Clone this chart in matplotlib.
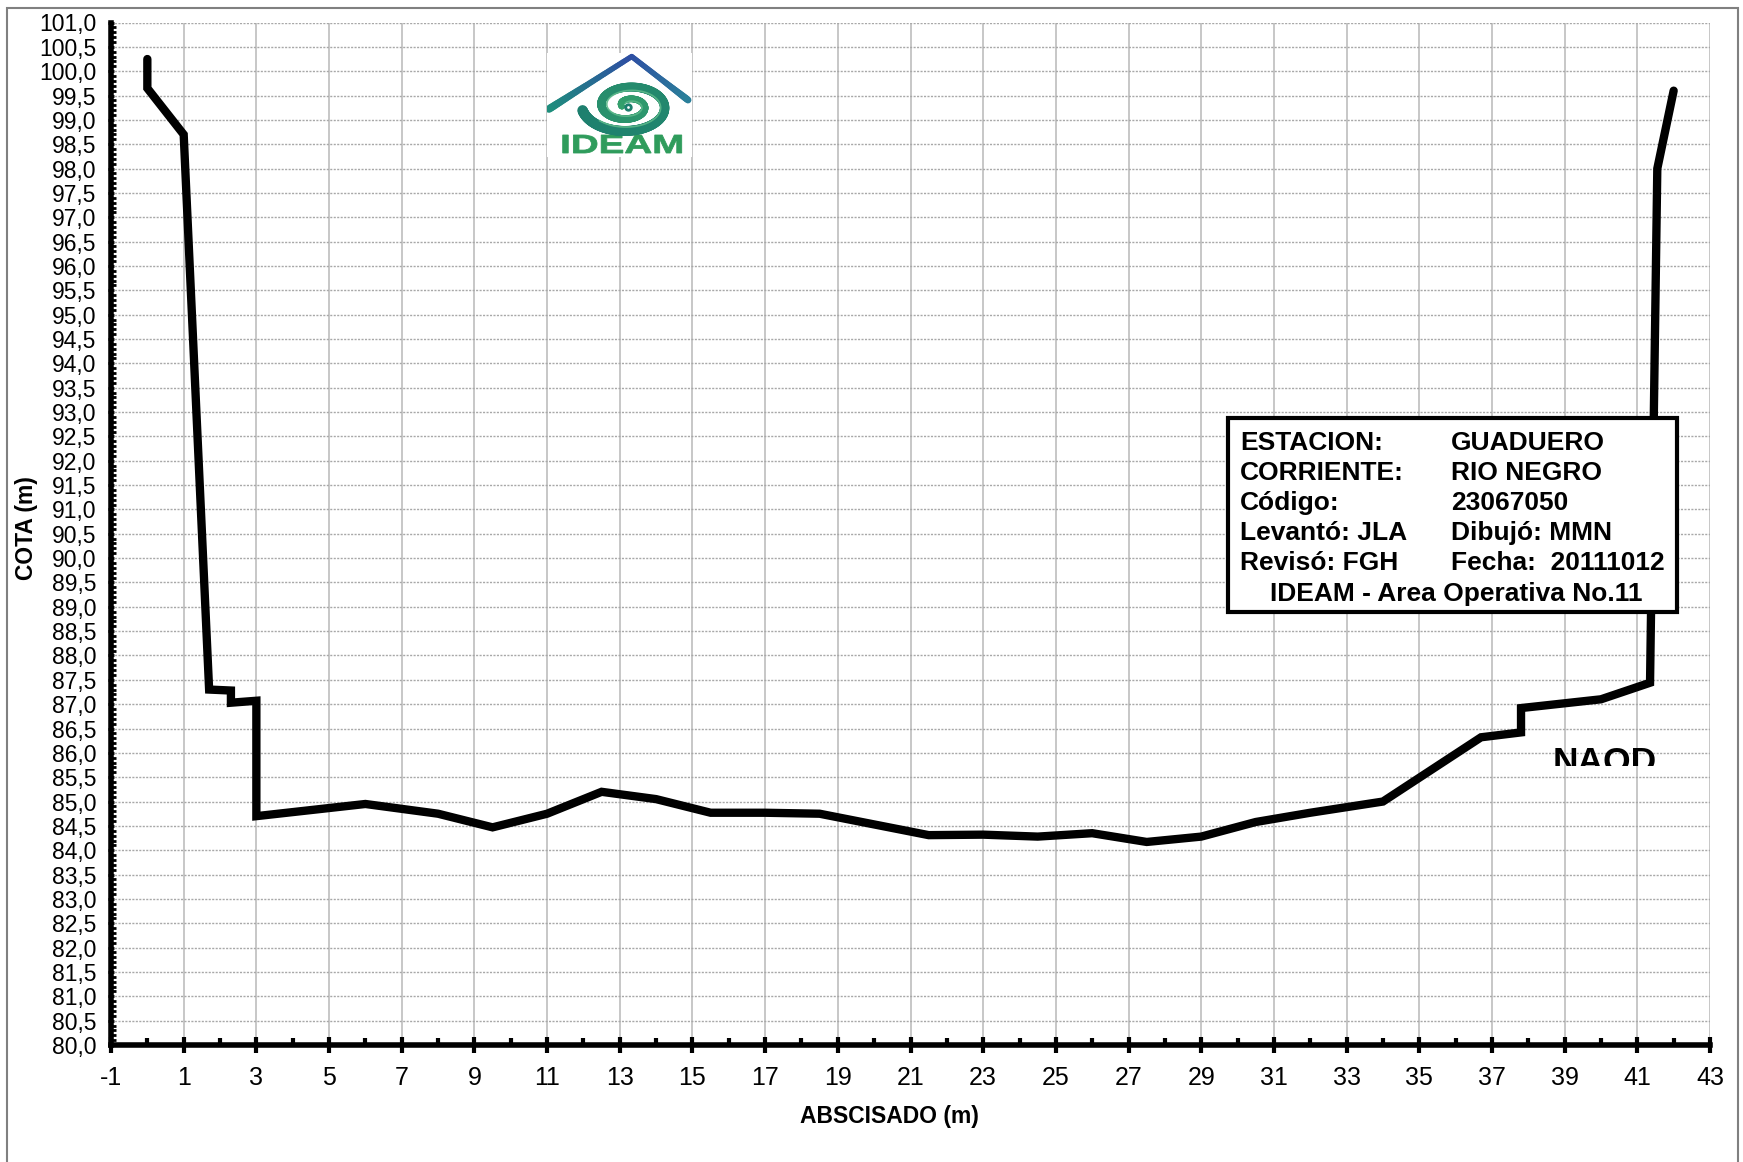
import numpy as np
import matplotlib
matplotlib.use("Agg")
import matplotlib.pyplot as plt
from matplotlib.patches import Rectangle, PathPatch
from matplotlib.collections import LineCollection
from matplotlib.textpath import TextPath
from matplotlib.font_manager import FontProperties
from matplotlib.transforms import Affine2D
from matplotlib.ticker import MultipleLocator, FuncFormatter
from matplotlib.colors import to_rgb

# Cross-section survey: horizontal distance (m) and elevation (m)
abscisa = [0, 0, 1, 1.7, 2.3, 2.3, 3, 3, 6, 8, 9.5, 11, 12.5, 14, 15.5, 17,
           18.5, 21.5, 23, 24.5, 26, 27.5, 29, 30.5, 32, 34, 36.7, 37.8, 37.8,
           40, 41.35, 41.55, 42]
cota = [100.25, 99.65, 98.7, 87.3, 87.28, 87.03, 87.07, 84.7, 84.95, 84.75,
        84.47, 84.75, 85.2, 85.05, 84.77, 84.77, 84.75, 84.31, 84.32, 84.28,
        84.35, 84.17, 84.28, 84.58, 84.77, 85.0, 86.32, 86.42, 86.92, 87.1,
        87.44, 98.0, 99.6]

info_left = ["ESTACION:", "CORRIENTE:", "Código:", "Levantó: JLA", "Revisó: FGH"]
info_right = ["GUADUERO", "RIO NEGRO", "23067050", "Dibujó: MMN", "Fecha:  20111012"]
info_footer = "IDEAM - Area Operativa No.11"

W, H = 1743, 1162
FONT = "Liberation Sans"
plt.rcParams["font.family"] = [FONT, "DejaVu Sans"]


def fx(px):
    return px / W


def fy(py):
    return 1 - py / H


fig = plt.figure(figsize=(W / 100, H / 100), dpi=100)
fig.patch.set_facecolor("white")

ax = fig.add_axes([fx(111), fy(1045), fx(1710) - fx(111), fy(22.5) - fy(1045)])
ax.set_xlim(-1, 43)
ax.set_ylim(80, 101)

# grid: solid verticals, dotted horizontals
ax.xaxis.set_major_locator(MultipleLocator(2, offset=1))
ax.xaxis.set_minor_locator(MultipleLocator(2))
ax.yaxis.set_major_locator(MultipleLocator(0.5))
ax.yaxis.set_minor_locator(MultipleLocator(0.1))
ax.grid(axis="x", which="major", color="#bdbdbd", lw=1.2, ls="-", zorder=0)
ax.grid(axis="y", which="major", color="#a8a8a8", lw=1.0, ls=(0, (1.5, 1)), zorder=0)
ax.set_axisbelow(True)

for s in ("top", "right"):
    ax.spines[s].set_visible(False)
for s in ("left", "bottom"):
    ax.spines[s].set_linewidth(4)
    ax.spines[s].set_color("black")

ax.tick_params(axis="x", which="major", direction="inout", length=12, width=3,
               pad=9, labelsize=18)
ax.tick_params(axis="x", which="minor", direction="in", length=5, width=3)
ax.tick_params(axis="y", which="major", direction="inout", length=5, width=2,
               pad=8, labelsize=16.5)
ax.tick_params(axis="y", which="minor", direction="in", length=3.5, width=2)
ax.yaxis.set_major_formatter(FuncFormatter(lambda v, p: f"{v:.1f}".replace(".", ",")))
ax.xaxis.set_major_formatter(FuncFormatter(lambda v, p: f"{v:.0f}"))

ax.plot(abscisa, cota, color="black", lw=6, solid_capstyle="round",
        solid_joinstyle="miter", zorder=3, clip_on=False)

# level label, its lower part cut off
naod = ax.text(40.1, 85.6, "NAOD", fontsize=25.5, fontweight="bold",
               ha="center", va="baseline", zorder=4)
naod.set_clip_on(True)
naod.set_clip_path(Rectangle((35, 85.72), 10, 5, transform=ax.transData))

fig.text(fx(889), fy(1117), "ABSCISADO (m)", fontsize=16.5, fontweight="bold",
         ha="center", va="center")
fig.text(fx(27), fy(528), "COTA (m)", fontsize=16.5, fontweight="bold",
         ha="center", va="center", rotation=90)

# station information box
fig.patches.append(Rectangle((fx(1228), fy(612)), fx(1677) - fx(1228), fy(418) - fy(612),
                             transform=fig.transFigure, facecolor="white",
                             edgecolor="black", lw=3, zorder=5))
baselines = [450, 480, 510, 540, 570]
for yb, left, right in zip(baselines, info_left, info_right):
    fig.text(fx(1240), fy(yb), left, fontsize=19, fontweight="bold",
             ha="left", va="baseline", zorder=6)
    fig.text(fx(1451), fy(yb), right, fontsize=19, fontweight="bold",
             ha="left", va="baseline", zorder=6)
fig.text(fx(1456), fy(601), info_footer, fontsize=19, fontweight="bold",
         ha="center", va="baseline", zorder=6)

# logo
lx0, ly0, lw_, lh_ = 547, 53, 145, 104
lax = fig.add_axes([fx(lx0), fy(ly0 + lh_), fx(lw_), lh_ / H], zorder=2)
lax.set_xlim(0, lw_)
lax.set_ylim(lh_, 0)
lax.axis("off")
lax.add_patch(Rectangle((0, 0), lw_, lh_, facecolor="white", edgecolor="none"))


def gradient_line(axl, pts, c0, c1, widths, n=40):
    pts = np.asarray(pts, float)
    seg_pts = []
    for i in range(len(pts) - 1):
        t = np.linspace(0, 1, n, endpoint=(i == len(pts) - 2))
        seg_pts.append(pts[i] + (pts[i + 1] - pts[i]) * t[:, None])
    p = np.vstack(seg_pts)
    segs = np.stack([p[:-1], p[1:]], axis=1)
    a, b = np.array(to_rgb(c0)), np.array(to_rgb(c1))
    tt = np.linspace(0, 1, len(segs))
    cols = a + (b - a) * tt[:, None]
    wds = np.interp(tt, np.linspace(0, 1, len(widths)), widths)
    axl.add_collection(LineCollection(segs, colors=cols, linewidths=wds,
                                      capstyle="round"))


# roof
gradient_line(lax, [(2, 56), (84.7, 3.5)], "#1e8f7c", "#2e4fa3", [5.5, 4.2, 3.8])
gradient_line(lax, [(84.7, 3.5), (141, 47)], "#2e4fa3", "#2a7f9a", [3.8, 4.0, 5.0])

# swirl
cx, cy = 81, 53
th = np.linspace(0.0, 4.0 * np.pi, 500)
r = 46 - 40 * th / (4.0 * np.pi)
sx = cx + r * np.cos(th + np.pi * 1.05)
sy = cy - 0.6 * r * np.sin(th + np.pi * 1.05)
pts = np.column_stack([sx, sy])
segs = np.stack([pts[:-1], pts[1:]], axis=1)
tt = np.linspace(0, 1, len(segs))
c_a, c_b = np.array(to_rgb("#1d7f6e")), np.array(to_rgb("#34a06c"))
cols = c_a + (c_b - c_a) * tt[:, None]
lax.add_collection(LineCollection(segs, colors=cols,
                                  linewidths=6.5 * (1 - 0.5 * tt) + 1.0,
                                  capstyle="round"))
th2 = np.linspace(0.4, 3.6 * np.pi, 400)
r2 = 40 - 34 * th2 / (3.6 * np.pi)
sx2 = cx + 1 + r2 * np.cos(th2 + np.pi * 1.1)
sy2 = cy - 0.58 * r2 * np.sin(th2 + np.pi * 1.1)
lax.plot(sx2, sy2, color="#5cb88a", lw=1.2, alpha=0.9)
lax.plot([cx], [cy + 1], marker="o", ms=4, color="white", mec="#1d7f6e", mew=2)

# logo lettering fitted into its box
tp = TextPath((0, 0), "IDEAM", size=1, prop=FontProperties(family=FONT, weight="bold"))
ext = tp.get_extents()
bx0, bx1, by_top, by_bot = 15.7, 134.7, 82, 100
tr = (Affine2D().translate(-ext.x0, -ext.y0)
      .scale((bx1 - bx0) / ext.width, -(by_bot - by_top) / ext.height)
      .translate(bx0, by_bot))
lax.add_patch(PathPatch(tr.transform_path(tp), facecolor="#2f9c5c",
                        edgecolor="#2f9c5c", lw=0.6))

# outer frame
fig.patches.append(Rectangle((fx(7), -0.05), fx(1738) - fx(7), fy(8) + 0.05,
                             transform=fig.transFigure, fill=False,
                             edgecolor="#808080", lw=1.5, zorder=0))

fig.savefig("out.png", dpi=100)
